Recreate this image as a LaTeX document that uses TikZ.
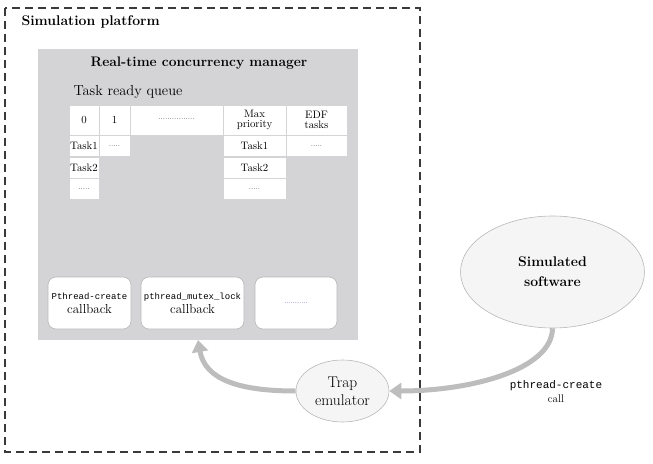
\documentclass[tikz,border=0pt]{standalone}
\usepackage{fontspec}
\setmonofont{Liberation Mono}
\usetikzlibrary{arrows.meta,shapes.geometric}
\definecolor{panel}{HTML}{D4D4D6}
\definecolor{arrowc}{HTML}{BDBDBD}
\definecolor{ellfill}{HTML}{F5F5F5}
\definecolor{ellline}{HTML}{B8B8B8}
\definecolor{dashc}{HTML}{3A3A3A}
\tikzset{
  cell/.style={draw=panel, fill=white, line width=0.6pt, inner sep=0pt, align=center, font=\fontsize{10.8}{11}\selectfont},
  cbbox/.style={draw=ellline, fill=white, rounded corners=8pt, inner sep=0pt, align=center, line width=0.6pt},
  ell/.style={ellipse, draw=ellline, fill=ellfill, inner sep=0pt, align=center, line width=0.6pt},
  flow/.style={draw=arrowc, line width=5pt, -{Triangle[length=12pt,width=16pt]}},
}
\begin{document}
\begin{tikzpicture}[x=1pt,y=-1pt]
\useasboundingbox (0,0) rectangle (653,463);
% outer dashed box
\draw[dashc, line width=2.4pt, dash pattern=on 8pt off 5pt] (5,8) rectangle (420,452);
\node[anchor=west, font=\fontsize{14}{16}\selectfont\bfseries] (title) at (18,22) {Simulation platform};
% gray panel
\node[fill=panel, draw=none, minimum width=320pt, minimum height=291pt, inner sep=0pt, anchor=north west] (panel) at (38,49) {};
\node[font=\fontsize{13.8}{16}\selectfont\bfseries] (rtcm) at (199,63) {Real-time concurrency manager};
\node[anchor=west, font=\fontsize{14.5}{16}\selectfont] (trq) at (70,92) {Task ready queue};
% table row 1
\node[cell, minimum width=30pt, minimum height=30pt] (c00) at (84,120) {0};
\node[cell, minimum width=31pt, minimum height=30pt] (c01) at (114.5,120) {1};
\node[cell, minimum width=93pt, minimum height=30pt] (c02) at (176.5,120) {\raisebox{2pt}{\fontsize{7}{8}\selectfont................}};
\node[cell, minimum width=63pt, minimum height=30pt] (c03) at (254.5,120) {Max\\[-1pt]priority};
\node[cell, minimum width=61pt, minimum height=30pt] (c04) at (316.5,120) {EDF\\[-1pt]tasks};
% row 2
\node[cell, minimum width=30pt, minimum height=21pt] (c10) at (84,146) {Task1};
\node[cell, minimum width=31pt, minimum height=21pt] (c11) at (114.5,146) {\fontsize{7}{8}\selectfont.....};
\node[cell, minimum width=63pt, minimum height=21pt] (c13) at (254.5,146) {Task1};
\node[cell, minimum width=61pt, minimum height=21pt] (c14) at (316.5,146) {\fontsize{7}{8}\selectfont.....};
% row 3
\node[cell, minimum width=30pt, minimum height=21pt] (c20) at (84,167.5) {Task2};
\node[cell, minimum width=63pt, minimum height=21pt] (c23) at (254.5,167.5) {Task2};
% row 4
\node[cell, minimum width=30pt, minimum height=21pt] (c30) at (84,189) {\fontsize{7}{8}\selectfont.....};
\node[cell, minimum width=63pt, minimum height=21pt] (c33) at (254.5,189) {\fontsize{7}{8}\selectfont.....};
% callbacks
\node[cbbox, minimum width=83pt, minimum height=52pt, font=\fontsize{13}{14}\selectfont] (cb1) at (89.5,303) {{\fontsize{9}{10}\selectfont\ttfamily Pthread-create}\\callback};
\node[cbbox, minimum width=103pt, minimum height=52pt, font=\fontsize{13}{14}\selectfont] (cb2) at (192.5,303) {{\fontsize{9}{10}\selectfont\ttfamily pthread\_mutex\_lock}\\callback};
\node[cbbox, minimum width=82pt, minimum height=52pt] (cb3) at (296,303) {\textcolor{blue!60!black}{\fontsize{6}{7}\selectfont...........}};
% ellipses
\node[ell, minimum width=93pt, minimum height=62pt, font=\fontsize{15.5}{18}\selectfont] (trap) at (342.5,391) {Trap\\emulator};
\node[ell, minimum width=184pt, minimum height=112pt, font=\fontsize{14}{20}\selectfont\bfseries] (sim) at (552.5,272) {Simulated\\software};
% arrows
\draw[flow] (sim.south) .. controls (552,370) and (470,391) .. (trap.east);
\draw[flow] (trap.west) .. controls (240,391) and (205,380) .. (198,340);
% label
\node[align=center, font=\fontsize{11}{14}\selectfont] (lbl) at (556,392) {{\ttfamily pthread-create}\\call};
\end{tikzpicture}
\end{document}
